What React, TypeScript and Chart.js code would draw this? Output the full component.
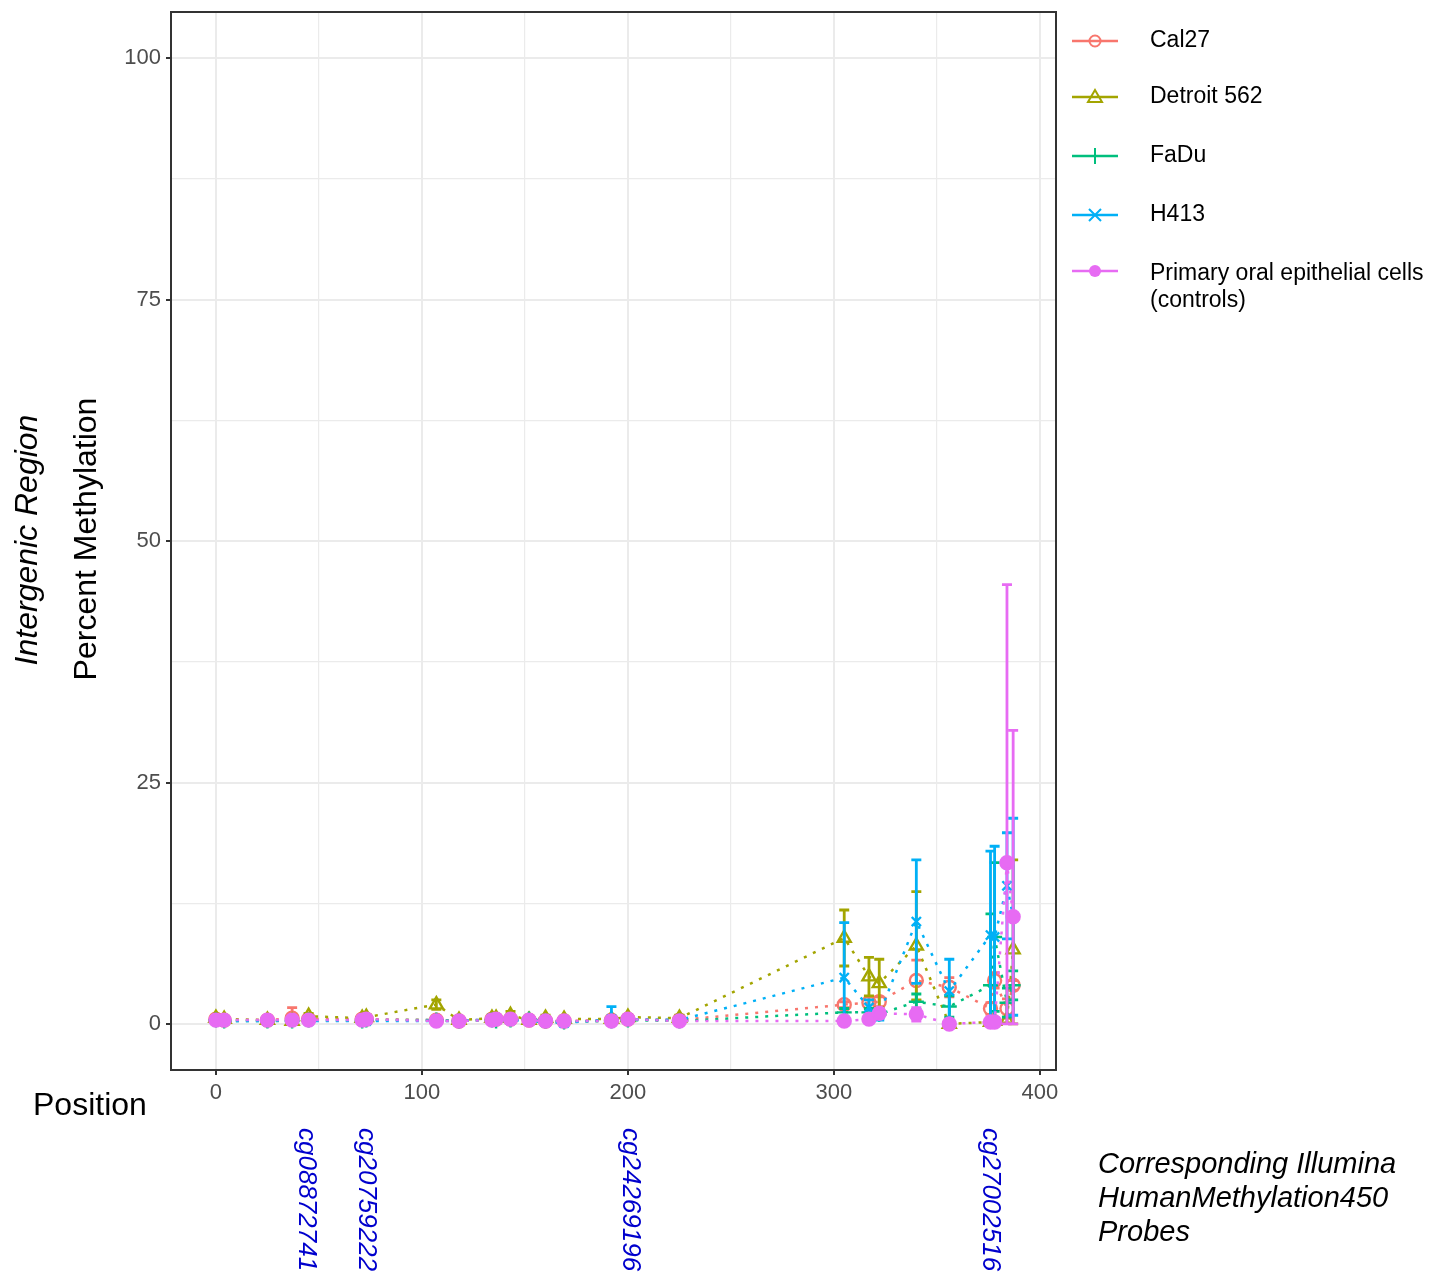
import React, { useEffect, useRef } from 'react';
import { Chart, registerables } from 'chart.js';

Chart.register(...registerables);

// CpG positions within the intergenic region
const positions = [0, 4, 25, 37, 45, 71, 73, 107, 118, 134, 136, 143, 152, 160, 169, 192, 200, 225, 305, 317, 322, 340, 356, 376, 378, 384, 387];

const seriesNames = ['Cal27', 'Detroit 562', 'FaDu', 'H413', 'Primary oral epithelial cells'];
const legendSecondLine = ['', '', '', '', '(controls)'];

const cal27Mean = [0.5, 0.4, 0.4, 0.6, 0.5, 0.5, 0.5, 0.4, 0.3, 0.5, 0.5, 0.5, 0.4, 0.3, 0.3, 0.4, 0.5, 0.4, 2.0, 2.2, 2.3, 4.5, 3.8, 1.6, 4.5, 1.6, 4.0];
const cal27Sd = [0.2, 0.2, 0.2, 1.1, 0.2, 0.2, 0.2, 0.2, 0.2, 0.2, 0.2, 0.2, 0.2, 0.2, 0.2, 0.2, 0.2, 0.2, 0.3, 0.6, 0.5, 2.1, 1.0, 0.6, 0.8, 1.0, 0.5];

const detroitMean = [0.6, 0.5, 0.4, 0.3, 0.8, 0.6, 0.7, 2.0, 0.4, 0.6, 0.6, 0.9, 0.4, 0.6, 0.5, 0.5, 0.7, 0.6, 8.9, 4.9, 4.2, 8.1, 0.0, 0.2, 0.3, 0.4, 7.7];
const detroitSd = [0.2, 0.2, 0.2, 0.3, 0.3, 0.2, 0.3, 0.5, 0.2, 0.3, 0.2, 0.4, 0.2, 0.3, 0.3, 0.2, 0.3, 0.3, 2.9, 2.0, 2.5, 5.6, 0.1, 0.2, 0.3, 0.3, 9.3];

const fadurMean = [0.4, 0.3, 0.3, 0.3, 0.4, 0.3, 0.4, 0.4, 0.3, 0.4, 0.3, 0.4, 0.5, 0.3, 0.2, 0.3, 0.4, 0.3, 1.2, 1.2, 1.0, 2.3, 1.8, 4.0, 9.0, 2.2, 4.0];
const faduSd = [0.2, 0.2, 0.2, 0.2, 0.2, 0.2, 0.2, 0.2, 0.2, 0.3, 0.2, 0.2, 0.3, 0.2, 0.3, 0.2, 0.2, 0.2, 0.4, 0.4, 0.4, 0.8, 1.1, 7.4, 7.7, 1.5, 1.5];

const h413Mean = [0.4, 0.3, 0.3, 0.4, 0.3, 0.3, 0.3, 0.3, 0.3, 0.5, 0.5, 0.4, 0.3, 0.2, 0.1, 0.5, 0.5, 0.4, 4.8, 1.7, 1.0, 10.6, 3.4, 9.2, 9.0, 14.3, 11.1];
const h413Sd = [0.2, 0.2, 0.2, 0.2, 0.2, 0.2, 0.2, 0.2, 0.2, 0.4, 0.4, 0.2, 0.2, 0.2, 0.2, 1.3, 0.2, 0.2, 5.7, 0.8, 0.6, 6.4, 3.3, 8.7, 9.4, 5.5, 10.2];

const primaryMean = [0.4, 0.4, 0.4, 0.4, 0.4, 0.4, 0.5, 0.3, 0.3, 0.4, 0.5, 0.5, 0.4, 0.3, 0.3, 0.3, 0.5, 0.3, 0.3, 0.5, 1.1, 1.0, 0.0, 0.2, 0.2, 16.7, 11.1];
const primarySd = [0.2, 0.2, 0.2, 0.2, 0.2, 0.2, 0.2, 0.2, 0.2, 0.2, 0.2, 0.2, 0.2, 0.2, 0.2, 0.2, 0.2, 0.2, 0.2, 0.4, 0.5, 0.7, 0.1, 0.2, 0.2, 28.8, 19.3];

const yTickValues = [0, 12.5, 25, 37.5, 50, 62.5, 75, 87.5, 100];
const xTickValues = [0, 50, 100, 150, 200, 250, 300, 350, 400];

const probeLabels = ['cg08872741', 'cg20759222', 'cg24269196', 'cg27002516'];
const probePositions = [44, 73, 201, 376];

const xAxisLabel = 'Position';
const yTitleItalic = 'Intergenic Region';
const yTitle = 'Percent Methylation';
const probeTitle = ['Corresponding Illumina', 'HumanMethylation450', 'Probes'];

// styles
const colors = ['#F8766D', '#A3A500', '#00BF7D', '#00B0F6', '#E76BF3'];
const pointStyles = ['circle', 'triangle', 'cross', 'crossRot', 'circle'];
const FONT = '"Liberation Sans", Arial, Helvetica, sans-serif';

const means = [cal27Mean, detroitMean, fadurMean, h413Mean, primaryMean];
const sds = [cal27Sd, detroitSd, faduSd, h413Sd, primarySd];

function drawMarker(ctx: CanvasRenderingContext2D, kind: number, x: number, y: number, color: string) {
  ctx.save();
  ctx.strokeStyle = color;
  ctx.fillStyle = color;
  ctx.lineWidth = 2;
  ctx.beginPath();
  if (kind === 0) {
    ctx.arc(x, y, 5.5, 0, Math.PI * 2);
    ctx.stroke();
  } else if (kind === 1) {
    ctx.moveTo(x, y - 7);
    ctx.lineTo(x + 7, y + 5);
    ctx.lineTo(x - 7, y + 5);
    ctx.closePath();
    ctx.stroke();
  } else if (kind === 2) {
    ctx.moveTo(x, y - 8);
    ctx.lineTo(x, y + 8);
    ctx.stroke();
  } else if (kind === 3) {
    ctx.moveTo(x - 6, y - 6);
    ctx.lineTo(x + 6, y + 6);
    ctx.moveTo(x + 6, y - 6);
    ctx.lineTo(x - 6, y + 6);
    ctx.stroke();
  } else {
    ctx.arc(x, y, 6, 0, Math.PI * 2);
    ctx.fill();
  }
  ctx.restore();
}

const errorBarPlugin = {
  id: 'errorBars',
  beforeDatasetDraw(chart: any, args: any) {
    const ds = chart.data.datasets[args.index];
    const sd: number[] = ds.sd;
    if (!sd) return;
    const xs = chart.scales.x;
    const ys = chart.scales.y;
    const ctx = chart.ctx as CanvasRenderingContext2D;
    const a = chart.chartArea;
    ctx.save();
    ctx.beginPath();
    ctx.rect(a.left, a.top, a.right - a.left, a.bottom - a.top);
    ctx.clip();
    ctx.strokeStyle = ds.borderColor;
    ctx.lineWidth = 2.8;
    ds.data.forEach((p: any, i: number) => {
      const px = xs.getPixelForValue(p.x);
      const lo = ys.getPixelForValue(Math.max(0, p.y - sd[i]));
      const hi = ys.getPixelForValue(p.y + sd[i]);
      ctx.beginPath();
      ctx.moveTo(px, lo);
      ctx.lineTo(px, hi);
      ctx.moveTo(px - 5, lo);
      ctx.lineTo(px + 5, lo);
      ctx.moveTo(px - 5, hi);
      ctx.lineTo(px + 5, hi);
      ctx.stroke();
    });
    ctx.restore();
  },
};

const decorPlugin = {
  id: 'decor',
  afterDraw(chart: any) {
    const ctx = chart.ctx as CanvasRenderingContext2D;
    const a = chart.chartArea;
    const xs = chart.scales.x;
    ctx.save();
    // panel border
    ctx.strokeStyle = '#333333';
    ctx.lineWidth = 2;
    ctx.strokeRect(a.left, a.top, a.right - a.left, a.bottom - a.top);

    // legend
    const keyYs = [41, 97, 156, 215, 271];
    seriesNames.forEach((name, i) => {
      const y = keyYs[i];
      ctx.strokeStyle = colors[i];
      ctx.lineWidth = 2.5;
      ctx.beginPath();
      ctx.moveTo(1072, y);
      ctx.lineTo(1118, y);
      ctx.stroke();
      drawMarker(ctx, i, 1095, y, colors[i]);
      ctx.fillStyle = '#000000';
      ctx.font = `23px ${FONT}`;
      ctx.textAlign = 'left';
      ctx.textBaseline = 'middle';
      if (legendSecondLine[i]) {
        ctx.fillText(name, 1150, y + 3);
        ctx.fillText(legendSecondLine[i], 1150, y + 30);
      } else {
        ctx.fillText(name, 1150, y);
      }
    });

    // y titles
    ctx.fillStyle = '#000000';
    ctx.textAlign = 'center';
    ctx.textBaseline = 'middle';
    ctx.save();
    ctx.translate(28, 540);
    ctx.rotate(-Math.PI / 2);
    ctx.font = `italic 32px ${FONT}`;
    ctx.fillText(yTitleItalic, 0, 0);
    ctx.restore();
    ctx.save();
    ctx.translate(87, 539);
    ctx.rotate(-Math.PI / 2);
    ctx.font = `32px ${FONT}`;
    ctx.fillText(yTitle, 0, 0);
    ctx.restore();

    // x label
    ctx.font = `32px ${FONT}`;
    ctx.textAlign = 'left';
    ctx.textBaseline = 'alphabetic';
    ctx.fillText(xAxisLabel, 33, 1115);

    // probe labels
    ctx.fillStyle = '#0000CD';
    ctx.font = `italic 26px ${FONT}`;
    probeLabels.forEach((lab, i) => {
      const px = xs.getPixelForValue(probePositions[i]);
      ctx.save();
      ctx.translate(px, 1128);
      ctx.rotate(Math.PI / 2);
      ctx.textAlign = 'left';
      ctx.textBaseline = 'middle';
      ctx.fillText(lab, 0, 0);
      ctx.restore();
    });

    // probe title
    ctx.fillStyle = '#000000';
    ctx.font = `italic 29px ${FONT}`;
    ctx.textAlign = 'left';
    ctx.textBaseline = 'alphabetic';
    probeTitle.forEach((t, i) => ctx.fillText(t, 1098, 1173 + i * 34));
    ctx.restore();
  },
};

export default function App() {
  const ref = useRef<HTMLCanvasElement | null>(null);
  useEffect(() => {
    if (!ref.current) return;
    const datasets = seriesNames.map((name, i) => ({
      label: name,
      data: positions.map((x, j) => ({ x, y: means[i][j] })),
      sd: sds[i],
      borderColor: colors[i],
      backgroundColor: i === 4 ? colors[i] : 'rgba(0,0,0,0)',
      pointBackgroundColor: i === 4 ? colors[i] : 'rgba(0,0,0,0)',
      pointBorderColor: colors[i],
      pointStyle: pointStyles[i],
      pointRadius: i === 1 ? 7.5 : i === 2 ? 7.5 : 6.5,
      pointBorderWidth: 2.4,
      borderWidth: 2.5,
      borderDash: [3, 7],
      showLine: true,
      tension: 0,
      order: 4 - i,
    }));
    const chart = new Chart(ref.current, {
      type: 'line',
      data: { datasets: datasets as any },
      options: {
        animation: false,
        responsive: false,
        maintainAspectRatio: false,
        layout: { padding: { left: 0, right: 375, top: 12, bottom: 166 } },
        plugins: { legend: { display: false }, tooltip: { enabled: false } },
        scales: {
          x: {
            type: 'linear',
            min: -21.8,
            max: 407.8,
            afterBuildTicks: (s: any) => { s.ticks = xTickValues.map((v) => ({ value: v })); },
            afterFit: (s: any) => { s.height = 40; s.paddingLeft = 0; s.paddingRight = 0; },
            ticks: {
              autoSkip: false,
              maxRotation: 0,
              padding: 5,
              color: '#4D4D4D',
              font: { size: 22, family: FONT },
              callback: (v: any) => (Number(v) % 100 === 0 ? String(v) : ''),
            },
            grid: {
              color: '#EBEBEB',
              lineWidth: (c: any) => (c.tick && c.tick.value % 100 === 0 ? 2 : 1.2),
              tickColor: (c: any) => (c.tick && c.tick.value % 100 === 0 ? '#333333' : 'rgba(0,0,0,0)'),
              tickLength: 5,
              tickWidth: 2,
            },
            border: { display: false },
          },
          y: {
            type: 'linear',
            min: -4.77,
            max: 104.8,
            afterBuildTicks: (s: any) => { s.ticks = yTickValues.map((v) => ({ value: v })); },
            afterFit: (s: any) => { s.width = 171; s.paddingTop = 0; s.paddingBottom = 0; },
            ticks: {
              autoSkip: false,
              padding: 5,
              color: '#4D4D4D',
              font: { size: 22, family: FONT },
              callback: (v: any) => (Number(v) % 25 === 0 ? String(v) : ''),
            },
            grid: {
              color: '#EBEBEB',
              lineWidth: (c: any) => (c.tick && c.tick.value % 25 === 0 ? 2 : 1.2),
              tickColor: (c: any) => (c.tick && c.tick.value % 25 === 0 ? '#333333' : 'rgba(0,0,0,0)'),
              tickLength: 5,
              tickWidth: 2,
            },
            border: { display: false },
          },
        },
      },
      plugins: [errorBarPlugin, decorPlugin],
    });
    return () => chart.destroy();
  }, []);
  return (
    <div style={{ position: 'fixed', left: 0, top: 0, width: 1431, height: 1276, background: '#ffffff' }}>
      <canvas ref={ref} width={1431} height={1276} style={{ width: 1431, height: 1276, display: 'block' }} />
    </div>
  );
}
